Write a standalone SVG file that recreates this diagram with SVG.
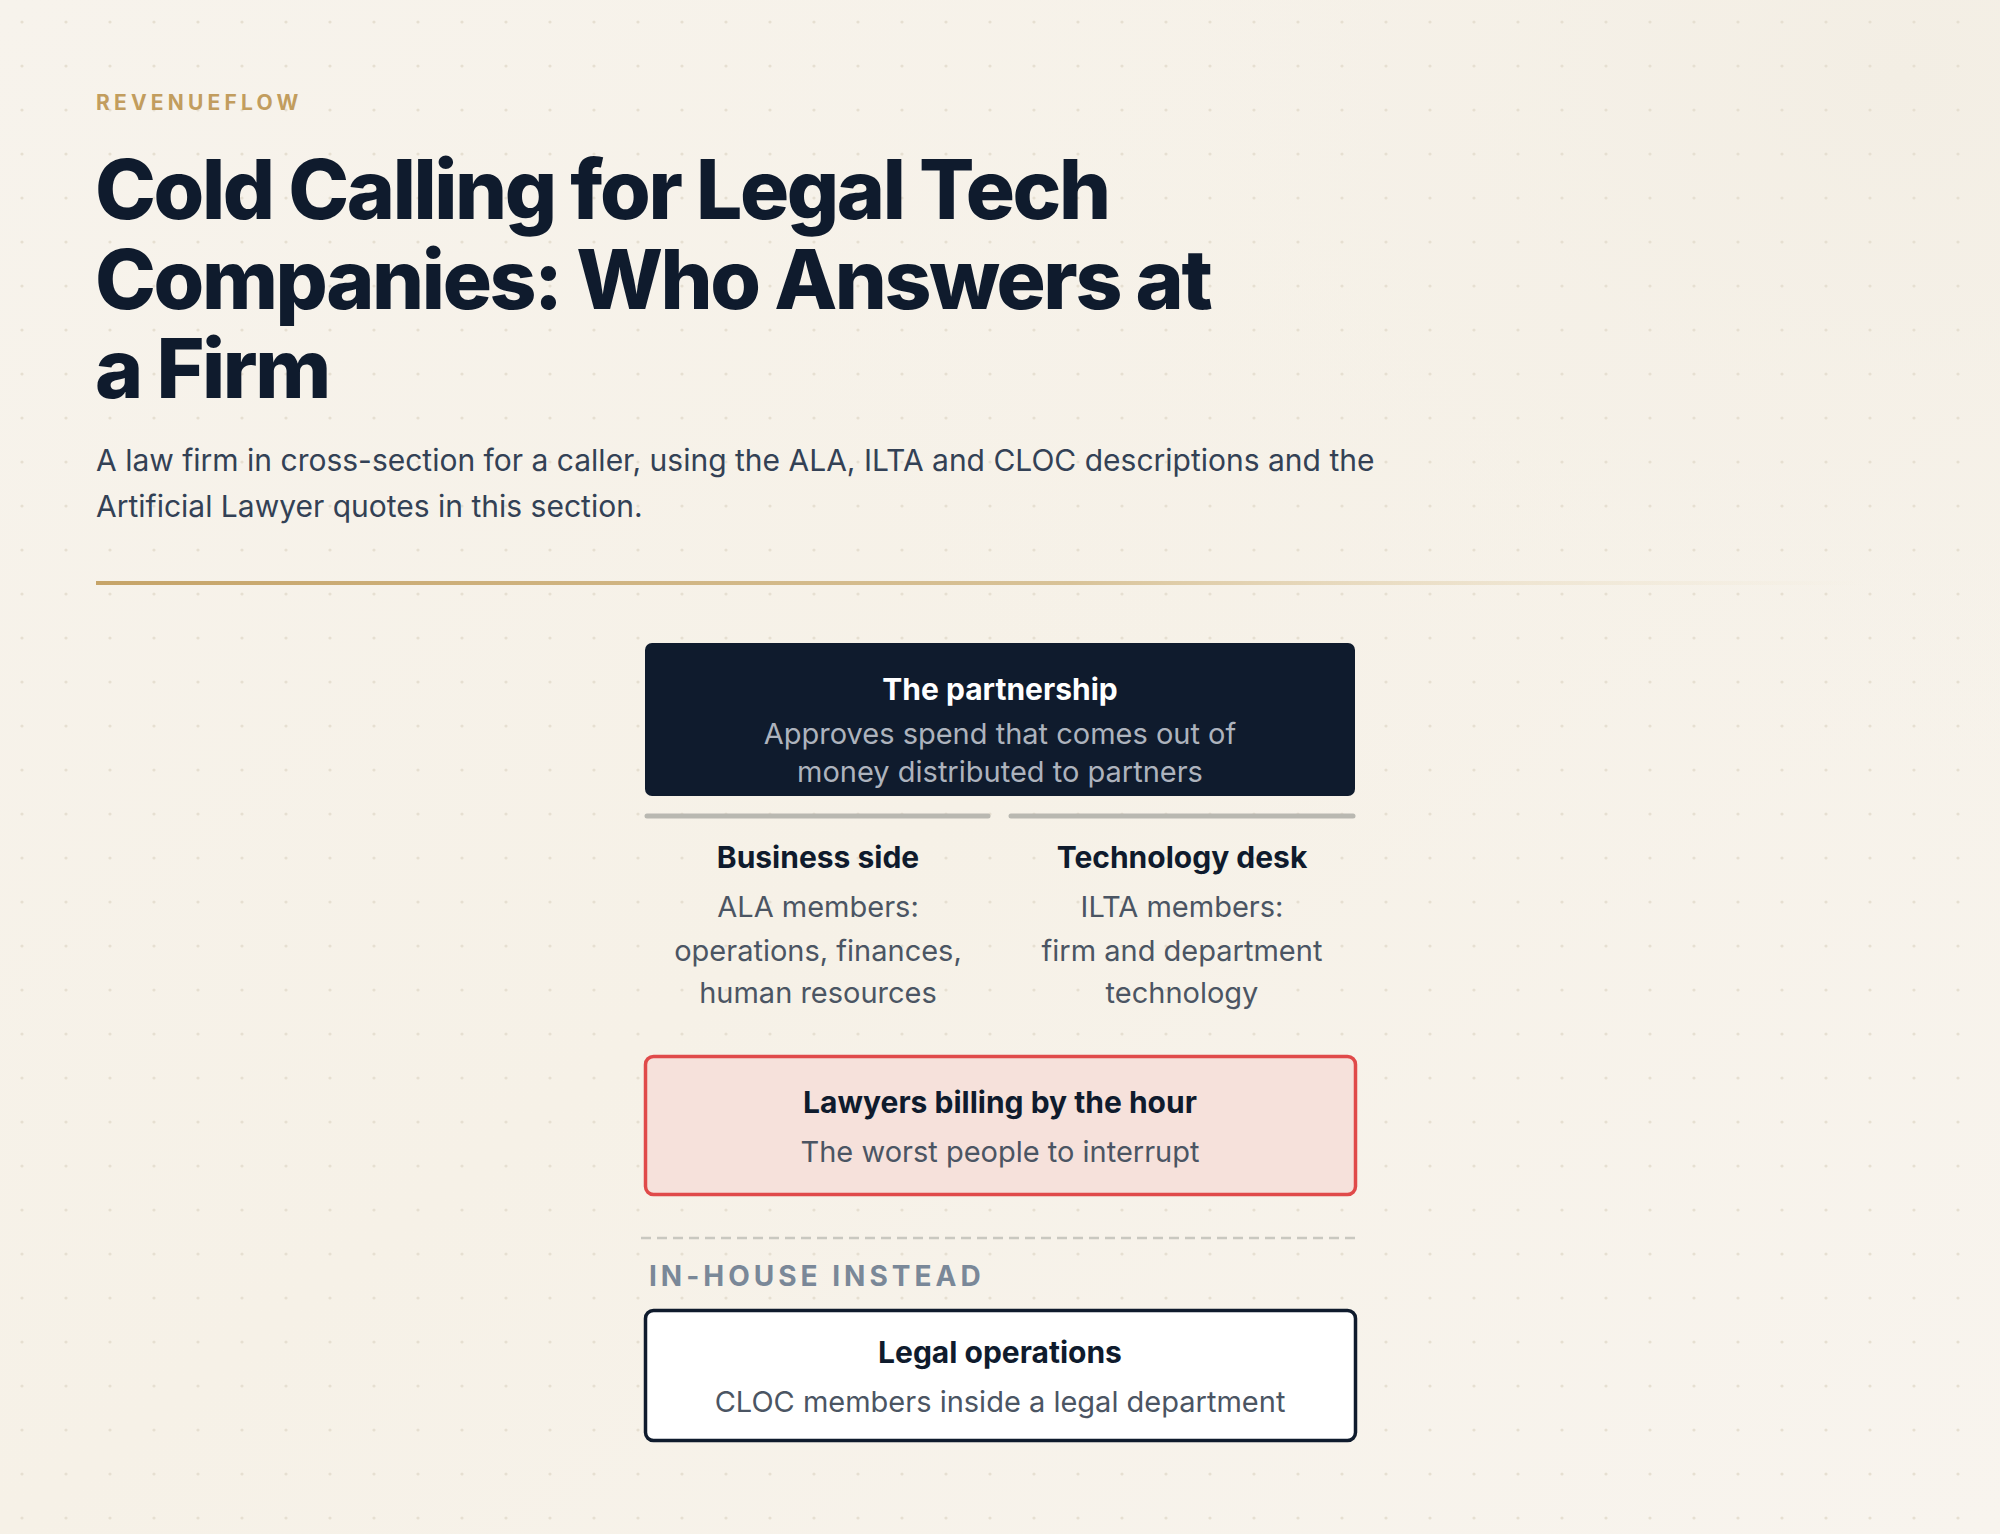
<svg xmlns="http://www.w3.org/2000/svg" width="2000" height="1534" viewBox="0 0 2000 1534">
<defs>
<linearGradient id="bg" x1="0" y1="0" x2="1" y2="1">
<stop offset="0" stop-color="#f7f3ec"/>
<stop offset="0.5" stop-color="#f6f1e7"/>
<stop offset="1" stop-color="#f8f4ee"/>
</linearGradient>
<radialGradient id="glow" cx="0.95" cy="0.05" r="0.6">
<stop offset="0" stop-color="#f3eee4" stop-opacity="1"/>
<stop offset="1" stop-color="#f7f3ec" stop-opacity="0"/>
</radialGradient>
<pattern id="dots" x="0" y="0" width="44" height="44" patternUnits="userSpaceOnUse">
<circle cx="22" cy="22" r="1.6" fill="#e6dfd1"/>
</pattern>
<linearGradient id="rule" x1="0" y1="0" x2="1" y2="0">
<stop offset="0" stop-color="#c6a468"/>
<stop offset="0.55" stop-color="#d8c297"/>
<stop offset="1" stop-color="#eee2c8" stop-opacity="0"/>
</linearGradient>
<style>
.t{font-family:Inter,"Noto Sans","Liberation Sans",sans-serif}
.brand{font-size:21px;font-weight:700;fill:#c29d5e;letter-spacing:4.2px}
.h1{font-size:82px;font-weight:800;fill:#0f1b2d;letter-spacing:-2.4px}
.sub{font-size:30px;font-weight:400;fill:#334155}
.nt{font-size:30px;font-weight:700;fill:#0f1b2d;text-anchor:middle}
.nd{font-size:29px;font-weight:400;fill:#4b5563;text-anchor:middle}
.ntw{font-size:30px;font-weight:700;fill:#ffffff;text-anchor:middle}
.ndw{font-size:29px;font-weight:400;fill:#adb3bd;text-anchor:middle}
.lbl{font-size:28px;font-weight:700;fill:#7a8898;letter-spacing:4px}
.bar{stroke:#b9b8b1;stroke-width:5;stroke-linecap:round}
</style>
</defs>
<rect width="2000" height="1534" fill="url(#bg)"/>
<rect width="2000" height="1534" fill="url(#glow)"/>
<rect width="2000" height="1534" fill="url(#dots)"/>

<g id="header">
<text class="t brand" x="96" y="110">REVENUEFLOW</text>
<text class="t h1" x="95" y="219">Cold Calling for Legal Tech</text>
<text class="t h1" x="95" y="309">Companies: Who Answers at</text>
<text class="t h1" x="95" y="398">a Firm</text>
<text class="t sub" x="96" y="471">A law firm in cross-section for a caller, using the ALA, ILTA and CLOC descriptions and the</text>
<text class="t sub" x="96" y="517">Artificial Lawyer quotes in this section.</text>
<rect x="96" y="581" width="1770" height="4" fill="url(#rule)"/>
</g>

<g id="partnership">
<rect x="645" y="643" width="710" height="153" rx="7" fill="#0f1b2d"/>
<text class="t ntw" x="1000" y="700">The partnership</text>
<text class="t ndw" x="1000" y="744">Approves spend that comes out of</text>
<text class="t ndw" x="1000" y="782">money distributed to partners</text>
</g>

<g id="connectors">
<line class="bar" x1="647" y1="816" x2="988" y2="816"/>
<line class="bar" x1="1011" y1="816" x2="1353" y2="816"/>
<line x1="641" y1="1238" x2="1356" y2="1238" stroke="#c9c8c0" stroke-width="2.5" stroke-dasharray="10 6"/>
</g>

<g id="business-side">
<text class="t nt" x="818" y="868">Business side</text>
<text class="t nd" x="818" y="917">ALA members:</text>
<text class="t nd" x="818" y="961">operations, finances,</text>
<text class="t nd" x="818" y="1003">human resources</text>
</g>

<g id="technology-desk">
<text class="t nt" x="1182" y="868">Technology desk</text>
<text class="t nd" x="1182" y="917">ILTA members:</text>
<text class="t nd" x="1182" y="961">firm and department</text>
<text class="t nd" x="1182" y="1003">technology</text>
</g>

<g id="lawyers">
<rect x="645.5" y="1056.5" width="710" height="138" rx="8" fill="#f6e1db" stroke="#e04a4a" stroke-width="3.5"/>
<text class="t nt" x="1000" y="1113">Lawyers billing by the hour</text>
<text class="t nd" x="1000" y="1162">The worst people to interrupt</text>
</g>

<g id="in-house">
<text class="t lbl" x="649" y="1286">IN-HOUSE INSTEAD</text>
</g>

<g id="legal-operations">
<rect x="645.5" y="1310.5" width="710" height="130" rx="8" fill="#ffffff" stroke="#0f1b2d" stroke-width="3.5"/>
<text class="t nt" x="1000" y="1363">Legal operations</text>
<text class="t nd" x="1000" y="1412">CLOC members inside a legal department</text>
</g>
</svg>
